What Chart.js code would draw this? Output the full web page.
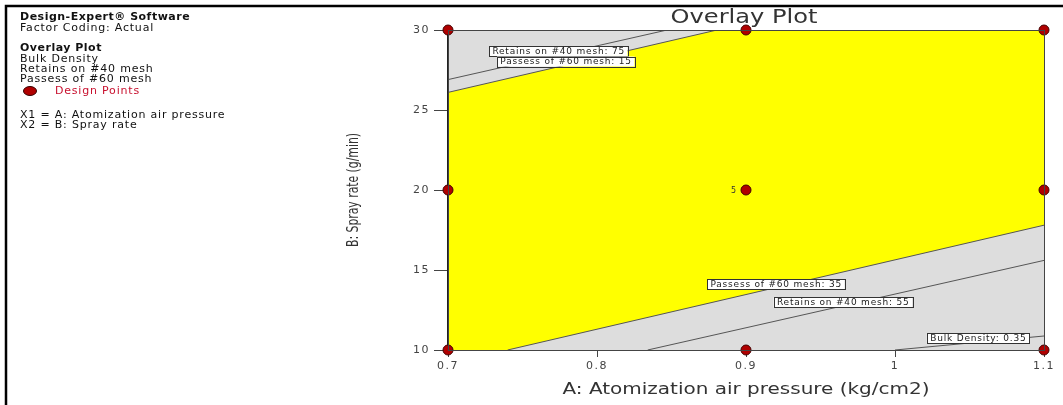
<!DOCTYPE html>
<html>
<head>
<meta charset="utf-8">
<script src="https://cdn.jsdelivr.net/npm/chart.js@4"></script>
<style>
  html, body { margin: 0; padding: 0; background: #fff; }
  #wrap { width: 1063px; height: 405px; position: relative; }
</style>
</head>
<body>
<div id="wrap"><canvas id="overlay"></canvas></div>
<script>
// axis ticks
const xTicks = [0.7, 0.8, 0.9, 1.0, 1.1];
const xTickLabels = ['0.7', '0.8', '0.9', '1', '1.1'];
const yTicks = [10, 15, 20, 25, 30];

// design points (A = pressure, B = spray rate)
const designA = [0.7, 0.7, 0.7, 0.9, 0.9, 0.9, 1.1, 1.1, 1.1];
const designB = [10, 20, 30, 10, 20, 30, 10, 20, 30];

// contour lines
const retains75A = [0.7, 0.847];
const retains75B = [26.9, 30];
const passess15A = [0.7, 0.8805];
const passess15B = [26.1, 30];
const passess35A = [0.74, 1.1];
const passess35B = [10, 17.8];
const retains55A = [0.834, 1.1];
const retains55B = [10, 15.6];
const bulk035A = [1.0, 1.1];
const bulk035B = [10, 10.875];

const contourNames = ['Retains on #40 mesh: 75', 'Passess of #60 mesh: 15', 'Passess of #60 mesh: 35', 'Retains on #40 mesh: 55', 'Bulk Density: 0.35'];
const labelA = [0.774, 0.779, 0.920, 0.965, 1.0557];
const labelB = [28.69, 28.03, 14.12, 12.97, 10.72];

function pts(a, b) {
    return a.map((v, i) => ({ x: v, y: b[i] }));
}

// draw centred text squeezed/stretched to a given width
function fitText(ctx, text, x, y, width) {
    const w = ctx.measureText(text).width;
    ctx.save();
    ctx.translate(x, y);
    ctx.scale(width / w, 1);
    ctx.textAlign = 'center';
    ctx.fillText(text, 0, 0);
    ctx.restore();
}

const lineColor = '#555555';
const grayFill = '#dddddd';

const overlayPlugin = {
    id: 'overlayExtras',
    beforeDraw(chart) {
        chart.ctx.letterSpacing = '1.5px';
    },
    beforeDatasetsDraw(chart) {
        const { ctx, chartArea } = chart;
        ctx.save();
        ctx.fillStyle = '#ffff00';
        ctx.fillRect(chartArea.left, chartArea.top, chartArea.right - chartArea.left, chartArea.bottom - chartArea.top);
        ctx.restore();
    },
    afterDatasetsDraw(chart) {
        const { ctx, chartArea } = chart;
        const xs = chart.scales.x, ys = chart.scales.y;
        ctx.save();
        // frame
        ctx.strokeStyle = '#444';
        ctx.lineWidth = 1;
        ctx.strokeRect(chartArea.left + 0.5, chartArea.top + 0.5, chartArea.right - chartArea.left, chartArea.bottom - chartArea.top);

        // contour labels
        ctx.font = '9px "DejaVu Sans"';
        ctx.letterSpacing = '0.8px';
        ctx.textAlign = 'center';
        ctx.textBaseline = 'middle';
        contourNames.forEach((name, i) => {
            const cx = xs.getPixelForValue(labelA[i]);
            const cy = ys.getPixelForValue(labelB[i]);
            const w = ctx.measureText(name).width + 6;
            const h = 10;
            ctx.fillStyle = '#fff';
            ctx.fillRect(cx - w / 2, cy - h / 2, w, h);
            ctx.strokeStyle = '#333';
            ctx.strokeRect(Math.round(cx - w / 2) + 0.5, Math.round(cy - h / 2) + 0.5, Math.round(w), h);
            ctx.fillStyle = '#222';
            ctx.fillText(name, cx + 0.4, cy + 0.5);
        });

        // replicate count at centre point
        ctx.letterSpacing = '0px';
        ctx.font = '8px "DejaVu Sans"';
        ctx.fillStyle = '#333';
        ctx.textAlign = 'right';
        ctx.fillText('5', xs.getPixelForValue(0.9) - 10, ys.getPixelForValue(20) + 1);
        ctx.restore();
    },
    afterDraw(chart) {
        const { ctx, chartArea } = chart;
        ctx.save();
        ctx.letterSpacing = '0px';
        // outer border lines
        ctx.strokeStyle = '#000';
        ctx.lineWidth = 2.5;
        ctx.beginPath();
        ctx.moveTo(6, 405);
        ctx.lineTo(6, 6);
        ctx.lineTo(1063, 6);
        ctx.stroke();

        // title
        ctx.fillStyle = '#333';
        ctx.textBaseline = 'middle';
        ctx.font = '19px "DejaVu Sans"';
        fitText(ctx, 'Overlay Plot', 744, 18, 147);

        // axis titles
        ctx.font = '16px "DejaVu Sans"';
        fitText(ctx, 'A: Atomization air pressure (kg/cm2)', 746, 390, 367);
        ctx.save();
        ctx.translate(354, 190);
        ctx.rotate(-Math.PI / 2);
        ctx.font = '15px "DejaVu Sans"';
        fitText(ctx, 'B: Spray rate (g/min)', 0, 0, 114);
        ctx.restore();

        // info block on the left
        ctx.textAlign = 'left';
        ctx.fillStyle = '#111';
        ctx.font = 'bold 11px "DejaVu Sans"';
        ctx.letterSpacing = '0.5px';
        ctx.fillText('Design-Expert\u00AE Software', 20, 17);
        ctx.fillText('Overlay Plot', 20, 48);
        ctx.font = '11px "DejaVu Sans"';
        ctx.letterSpacing = '0.8px';
        ctx.fillText('Factor Coding: Actual', 20, 28);
        ctx.fillText('Bulk Density', 20, 59);
        ctx.fillText('Retains on #40 mesh', 20, 69);
        ctx.fillText('Passess of #60 mesh', 20, 79);
        ctx.fillText('X1 = A: Atomization air pressure', 20, 115);
        ctx.fillText('X2 = B: Spray rate', 20, 125);
        ctx.fillStyle = '#c8102e';
        ctx.fillText('Design Points', 55, 91);

        ctx.beginPath();
        ctx.ellipse(30, 91, 6.5, 4.5, 0, 0, Math.PI * 2);
        ctx.fillStyle = '#b00000';
        ctx.fill();
        ctx.strokeStyle = '#300';
        ctx.lineWidth = 1;
        ctx.stroke();
        ctx.restore();
    }
};

const ctx = document.getElementById('overlay').getContext('2d');

new Chart(ctx, {
    type: 'scatter',
    data: {
        datasets: [
            {
                label: 'Design Points',
                data: pts(designA, designB),
                pointRadius: 5,
                pointBackgroundColor: '#b00000',
                pointBorderColor: '#400',
                pointBorderWidth: 1,
                clip: false,
                order: 0
            },
            {
                label: 'Passess 15',
                data: pts(passess15A, passess15B),
                showLine: true,
                borderColor: lineColor,
                borderWidth: 1,
                backgroundColor: grayFill,
                fill: 'end',
                pointRadius: 0,
                order: 3
            },
            {
                label: 'Passess 35',
                data: pts(passess35A, passess35B),
                showLine: true,
                borderColor: lineColor,
                borderWidth: 1,
                backgroundColor: grayFill,
                fill: 'start',
                pointRadius: 0,
                order: 3
            },
            {
                label: 'Retains 75',
                data: pts(retains75A, retains75B),
                showLine: true,
                borderColor: lineColor,
                borderWidth: 1,
                pointRadius: 0,
                order: 2
            },
            {
                label: 'Retains 55',
                data: pts(retains55A, retains55B),
                showLine: true,
                borderColor: lineColor,
                borderWidth: 1,
                pointRadius: 0,
                order: 2
            },
            {
                label: 'Bulk Density',
                data: pts(bulk035A, bulk035B),
                showLine: true,
                borderColor: lineColor,
                borderWidth: 1,
                pointRadius: 0,
                order: 2
            }
        ]
    },
    options: {
        responsive: true,
        maintainAspectRatio: false,
        animation: false,
        layout: { padding: { left: 0, top: 30, right: 19, bottom: 0 } },
        plugins: {
            legend: { display: false },
            tooltip: { enabled: false }
        },
        scales: {
            x: {
                type: 'linear',
                min: 0.7,
                max: 1.1,
                afterBuildTicks: scale => { scale.ticks = xTicks.map(v => ({ value: v })); },
                afterFit: scale => { scale.height = 55; },
                ticks: {
                    callback: (v, i) => xTickLabels[i],
                    color: '#444',
                    font: { family: 'DejaVu Sans', size: 11 },
                    padding: 3,
                    maxRotation: 0
                },
                grid: { drawOnChartArea: false, drawTicks: true, tickLength: 7, color: '#444' },
                border: { display: true, color: '#444' }
            },
            y: {
                type: 'linear',
                min: 10,
                max: 30,
                afterBuildTicks: scale => { scale.ticks = yTicks.map(v => ({ value: v })); },
                afterFit: scale => { scale.width = 448; },
                ticks: {
                    color: '#444',
                    font: { family: 'DejaVu Sans', size: 11 },
                    padding: 4
                },
                grid: { drawOnChartArea: false, drawTicks: true, tickLength: 14, color: '#444' },
                border: { display: true, color: '#222', width: 1.5 }
            }
        }
    },
    plugins: [overlayPlugin]
});
</script>
</body>
</html>
